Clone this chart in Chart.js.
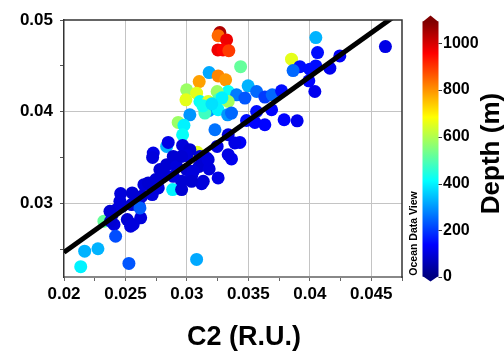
<!DOCTYPE html>
<html><head><meta charset="utf-8">
<style>html,body{margin:0;padding:0;background:#fff}</style>
<script src="https://cdn.jsdelivr.net/npm/chart.js@4/dist/chart.umd.min.js"></script>
</head><body>
<canvas id="c" width="504" height="351"></canvas>
<script>
// ---- data ----
const c2 = [0.02325,0.03268,0.03254,0.03323,0.03252,0.03293,0.03341,0.03437,0.03181,0.03254,0.03315,0.03100,0.03498,0.02998,0.03079,0.02992,0.03106,0.03336,0.03404,0.03472,0.03246,0.03254,0.03336,0.03173,0.03181,0.03254,0.03024,0.03331,0.03363,0.03146,0.03567,0.02929,0.02976,0.02965,0.02835,0.02848,0.03228,0.03084,0.03285,0.03130,0.03203,
0.04049,0.04063,0.04615,0.04244,0.03851,0.03919,0.03864,0.04000,0.04049,0.04163,0.03992,0.04041,0.03634,0.03694,0.03770,0.03689,0.03567,0.03485,0.03553,0.03634,0.03791,0.03897,0.03431,
0.03246,0.03336,0.03390,0.03363,0.03336,0.02965,0.03024,0.02998,0.03160,0.03100,0.03181,0.02889,0.02726,0.02721,0.02780,0.02835,0.02916,0.02998,0.03254,0.03133,0.03038,0.02957,0.02807,0.02884,0.02957,0.03051,0.03106,0.03173,0.02957,
0.02461,0.02555,0.02650,0.02746,0.02813,0.02718,0.02474,0.02393,0.02610,0.02624,0.02515,0.02542,0.02407,0.02380,0.02420,0.02168,0.02276,0.02136,0.02528,0.03079,0.02685,0.02767,0.02632,0.02604,0.02455,0.02550,0.02618,0.02428,0.02374,0.02563,0.03120,0.03038,0.02889];
const fdom = [0.02808,0.04864,0.04829,0.04783,0.04674,0.04674,0.04666,0.04492,0.04427,0.04391,0.04348,0.04329,0.04283,0.04239,0.04203,0.04130,0.04112,0.04221,0.04185,0.04149,0.04221,0.04130,0.04112,0.04112,0.04014,0.04022,0.03967,0.03967,0.03986,0.03986,0.04221,0.03884,0.03853,0.03750,0.03623,0.03666,0.03804,0.03558,0.04152,0.04065,0.04087,
0.04808,0.04645,0.04710,0.04609,0.04573,0.04492,0.04449,0.04464,0.04500,0.04475,0.04337,0.04221,0.04160,0.04185,0.04228,0.04022,0.04003,0.03905,0.03884,0.03859,0.03913,0.03902,0.03666,
0.03623,0.03750,0.03660,0.03486,0.03533,0.03634,0.03587,0.03522,0.03497,0.03405,0.03377,0.03514,0.03551,0.03503,0.03370,0.03424,0.03405,0.03370,0.03279,0.03242,0.03297,0.03242,0.03297,0.03152,0.03152,0.03351,0.03514,0.03478,0.03514,
0.03109,0.03116,0.03206,0.03261,0.03334,0.03098,0.02971,0.02880,0.02971,0.02845,0.02826,0.02753,0.02772,0.02808,0.02644,0.02481,0.02508,0.02312,0.02348,0.02391,0.03225,0.03171,0.03079,0.03025,0.03025,0.02989,0.02953,0.02935,0.02916,0.02772,0.03217,0.03242,0.03297];
const depth = [520,1050,850,980,980,960,900,520,320,820,800,790,330,580,660,660,420,420,270,230,580,500,590,650,300,400,300,300,250,480,250,580,400,420,330,110,260,660,400,430,380,
330,150,110,130,660,150,250,150,150,120,140,120,200,250,150,140,150,150,140,140,140,120,130,
110,100,110,120,110,100,90,100,110,90,100,90,110,100,90,90,100,90,110,90,100,90,90,400,90,100,90,100,90,
100,90,100,90,90,100,90,100,90,100,90,100,100,90,220,330,330,400,230,320,90,100,90,90,100,90,240,100,90,100,100,90,100];
const fitX = [0.02, 0.0475];
const fitY = [0.0247, 0.0510];
const xRange = [0.02, 0.0475];
const yRange = [0.022, 0.05];
const depthRange = [0, 1100];
const depthTicks = [0, 200, 400, 600, 800, 1000];

// ---- helpers ----
const FONT = "'Liberation Sans', Arial, sans-serif";
function clamp(v){return Math.max(0,Math.min(1,v));}
function jet(v){
  const t = clamp((v-depthRange[0])/(depthRange[1]-depthRange[0]));
  const r = clamp(1.5-Math.abs(4*t-3)), g = clamp(1.5-Math.abs(4*t-2)), b = clamp(1.5-Math.abs(4*t-1));
  return `rgb(${Math.round(r*255)},${Math.round(g*255)},${Math.round(b*255)})`;
}
function isMult(v,s){return Math.abs(v/s-Math.round(v/s))<1e-4;}
function fmt(v){return String(Math.round(v*10000)/10000);}
function noPad(s){ s.paddingTop=0; s.paddingBottom=0; s.paddingLeft=0; s.paddingRight=0; }

const deco = {
  id:'deco',
  afterDatasetsDraw(chart){
    const {ctx, chartArea:a} = chart;
    ctx.save();
    ctx.strokeStyle='#333'; ctx.lineWidth=1.5;
    ctx.beginPath();
    ctx.moveTo(a.left, a.top); ctx.lineTo(a.right, a.top); ctx.lineTo(a.right, a.bottom+1);
    ctx.stroke();
    ctx.restore();
  },
  afterDraw(chart){
    const {ctx} = chart;
    const cb = chart.scales.cb;
    const x0 = 422.5, w = 16;
    const yTop = cb.getPixelForValue(depthRange[1]) + 1.5, yBot = cb.getPixelForValue(depthRange[0]) - 0.5;
    ctx.save();
    const g = ctx.createLinearGradient(0, yBot, 0, yTop);
    for (let i=0;i<=40;i++) g.addColorStop(i/40, jet(depthRange[0]+i/40*(depthRange[1]-depthRange[0])));
    ctx.fillStyle = g;
    ctx.fillRect(x0, yTop, w, yBot-yTop);
    ctx.fillStyle = jet(depthRange[1]);
    ctx.beginPath(); ctx.moveTo(x0, yTop+0.5); ctx.lineTo(x0+w/2, yTop-6); ctx.lineTo(x0+w, yTop+0.5); ctx.closePath(); ctx.fill();
    ctx.fillStyle = jet(depthRange[0]);
    ctx.beginPath(); ctx.moveTo(x0, yBot-0.5); ctx.lineTo(x0+w/2, yBot+5); ctx.lineTo(x0+w, yBot-0.5); ctx.closePath(); ctx.fill();
    ctx.strokeStyle='#333'; ctx.lineWidth=1;
    depthTicks.forEach(v=>{
      const y = Math.round(cb.getPixelForValue(v))+0.5;
      ctx.beginPath(); ctx.moveTo(x0+w, y); ctx.lineTo(x0+w+3.5, y); ctx.stroke();
    });
    ctx.fillStyle='#000';
    ctx.textAlign='center'; ctx.textBaseline='alphabetic';
    ctx.save(); ctx.translate(499, 153.5); ctx.rotate(-Math.PI/2);
    ctx.font = `bold 26px ${FONT}`; ctx.fillText('Depth (m)', 0, 0); ctx.restore();
    ctx.save(); ctx.translate(416.5, 233.5); ctx.rotate(-Math.PI/2);
    ctx.font = `bold 10.5px ${FONT}`; ctx.fillText('Ocean Data View', 0, 0); ctx.restore();
    ctx.font = `bold 27px ${FONT}`;
    ctx.fillText('C2 (R.U.)', 244, 345);
    ctx.restore();
  }
};

new Chart(document.getElementById('c').getContext('2d'), {
  type:'scatter',
  data:{ datasets:[
    { data: fitX.map((x,i)=>({x, y:fitY[i]})), showLine:true, borderColor:'#000', borderWidth:5,
      pointRadius:0, pointHoverRadius:0, fill:false, clip:0, borderCapStyle:'butt' },
    { data: c2.map((x,i)=>({x, y:fdom[i]})), backgroundColor: c => jet(depth[c.dataIndex]),
      pointRadius:6.5, pointHoverRadius:6.5, borderWidth:0, pointBorderWidth:0 }
  ]},
  options:{
    responsive:false, animation:false, devicePixelRatio:1,
    layout:{padding:{top:20,left:0,right:0,bottom:0}},
    plugins:{legend:{display:false}, tooltip:{enabled:false}},
    scales:{
      x:{ type:'linear', position:'bottom', min:xRange[0], max:xRange[1],
        afterFit(s){ s.height = 74; noPad(s); },
        ticks:{ stepSize:0.0025, autoSkip:false, maxRotation:0, padding:3, color:'#000',
          font:{family:FONT, size:17, weight:'bold'},
          callback: v => isMult(v,0.005) ? fmt(v) : '' },
        grid:{ color: c => (isMult(c.tick.value,0.005) && c.tick.value>0.0201 && c.tick.value<0.0474) ? '#c4c4c4' : 'rgba(0,0,0,0)',
          tickColor: c => isMult(c.tick.value,0.0025) ? '#666' : 'rgba(0,0,0,0)', tickLength:4, lineWidth:1 },
        border:{ color:'#888', width:2 } },
      y:{ type:'linear', position:'left', min:yRange[0], max:yRange[1],
        afterFit(s){ s.width = 64; noPad(s); },
        ticks:{ stepSize:0.005, autoSkip:false, padding:7, color:'#000',
          font:{family:FONT, size:17, weight:'bold'},
          callback: v => isMult(v,0.01) ? fmt(v) : '' },
        grid:{ color: c => (isMult(c.tick.value,0.01) && c.tick.value<0.0499) ? '#c4c4c4' : 'rgba(0,0,0,0)',
          tickColor: c => isMult(c.tick.value,0.005) ? '#555' : 'rgba(0,0,0,0)', tickLength:4, lineWidth:1 },
        border:{ color:'#333', width:1.5 } },
      cb:{ type:'linear', position:'right', min:depthRange[0], max:depthRange[1],
        afterFit(s){ s.width = 102; noPad(s); },
        grid:{ display:false, drawTicks:false, drawOnChartArea:false },
        border:{ display:false },
        ticks:{ stepSize:200, autoSkip:false, padding:41, color:'#000',
          font:{family:FONT, size:16, weight:'bold'},
          callback: v => depthTicks.includes(v) ? String(v) : '' } }
    }
  },
  plugins:[deco]
});
</script>
</body></html>
